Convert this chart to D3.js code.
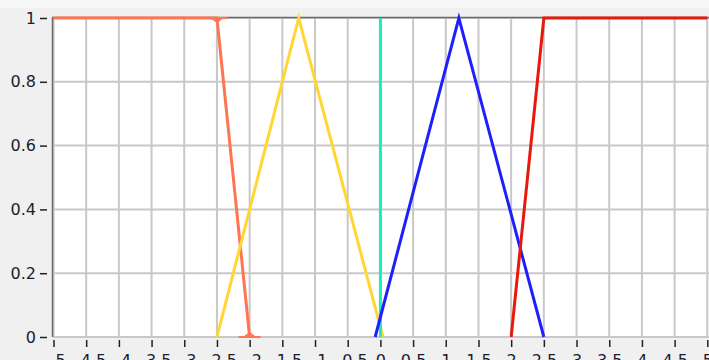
<!DOCTYPE html>
<html>
<head>
<meta charset="utf-8">
<script src="https://cdn.jsdelivr.net/npm/d3@7"></script>
<style>
  html, body { margin: 0; padding: 0; background: #f0f0f0; overflow: hidden; }
  svg { display: block; }
  .tick text { font-family: "DejaVu Sans", Verdana, sans-serif; font-size: 16px; fill: #1c1c30; }
</style>
</head>
<body>
<div id="chart"></div>
<script>
// membership functions
var xTicks = d3.range(-5, 5.01, 0.5);
var yTicks = [0, 0.2, 0.4, 0.6, 0.8, 1];

var salmon = [[-5, 1], [-2.5, 1], [-2, 0]];
var yellow = [[-2.5, 0], [-1.25, 1], [0.04, 0]];
var cyan = [[0, 0], [0, 1]];
var blue = [[-0.08, 0], [1.2, 1], [2.5, 0]];
var red = [[2, 0], [2.5, 1], [5, 1]];

var series = [
  {pts: salmon, color: "#ff7451"},
  {pts: yellow, color: "#ffd633"},
  {pts: cyan, color: "#19ecc2"},
  {pts: blue, color: "#1e1eff"},
  {pts: red, color: "#e8180c"}
];

var W = 709, H = 360;

var svg = d3.select("#chart").append("svg")
    .attr("width", W)
    .attr("height", H);

svg.append("rect")
  .attr("width", W)
  .attr("height", 8)
  .attr("fill", "#f7f7f7");

var x = d3.scaleLinear()
    .domain([-5, 5])
    .range([53.5, 707.3]);
var y = d3.scaleLinear()
    .domain([0, 1])
    .range([337, 18]);

// plot background
svg.append("rect")
  .attr("x", 52.5)
  .attr("y", 17)
  .attr("width", W - 52.5)
  .attr("height", 320)
  .attr("fill", "#fff");

// grid
svg.append("g").selectAll("line")
  .data(xTicks)
  .enter().append("line")
  .attr("x1", function(d) {return x(d);})
  .attr("x2", function(d) {return x(d);})
  .attr("y1", 17)
  .attr("y2", 337)
  .attr("stroke", "#c8c8c8")
  .attr("stroke-width", 2);

svg.append("g").selectAll("line")
  .data(yTicks)
  .enter().append("line")
  .attr("x1", 52.5)
  .attr("x2", W)
  .attr("y1", function(d) {return y(d);})
  .attr("y2", function(d) {return y(d);})
  .attr("stroke", "#c8c8c8")
  .attr("stroke-width", 2);

// frame top + left
svg.append("path")
  .attr("d", "M52.5,337V17.5H" + W)
  .attr("fill", "none")
  .attr("stroke", "#6a6a6a")
  .attr("stroke-width", 1.5);

// axes
var yAxis = d3.axisLeft(y)
    .tickValues(yTicks)
    .tickSize(7)
    .tickPadding(4)
    .tickFormat(d3.format(""));
var yg = svg.append("g")
  .attr("transform", "translate(47,0)")
  .call(yAxis);
yg.select(".domain").remove();
yg.selectAll(".tick line").attr("stroke", "#222").attr("stroke-width", 1.5);

var xAxis = d3.axisBottom(x)
    .tickValues(xTicks)
    .tickSize(7)
    .tickPadding(8)
    .tickFormat(d3.format(""));
var xg = svg.append("g")
  .attr("transform", "translate(0,340)")
  .call(xAxis);
xg.select(".domain").remove();
xg.selectAll(".tick line").attr("stroke", "#222").attr("stroke-width", 1.5);

// lines
var line = d3.line()
    .x(function(d) {return x(d[0]);})
    .y(function(d) {return y(d[1]);});

svg.append("g").selectAll("path")
  .data(series)
  .enter().append("path")
  .attr("d", function(d) {return line(d.pts);})
  .attr("fill", "none")
  .attr("stroke", function(d) {return d.color;})
  .attr("stroke-width", 3)
  .attr("stroke-linejoin", "miter");

// small corner markers on the salmon curve
var corners = salmon.slice(1);
svg.append("g").selectAll("path")
  .data(corners)
  .enter().append("path")
  .attr("d", function(d) {
    var cx = x(d[0]), cy = y(d[1]);
    return "M" + (cx - 11) + "," + cy + "H" + (cx + 11) +
      "M" + (cx - 5) + "," + cy + "L" + cx + "," + (d[1] > 0.5 ? cy + 4 : cy - 4) + "L" + (cx + 5) + "," + cy;
  })
  .attr("fill", "none")
  .attr("stroke", "#ff7451")
  .attr("stroke-width", 2);
</script>
</body>
</html>
